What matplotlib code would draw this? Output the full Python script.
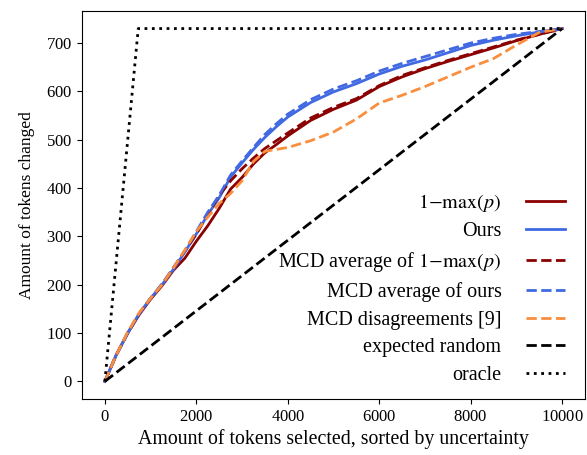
import numpy as np
import matplotlib
matplotlib.use("Agg")
import matplotlib.pyplot as plt
from matplotlib.font_manager import FontProperties

plt.rcParams['font.family'] = 'serif'
plt.rcParams['font.serif'] = ['Liberation Serif']
plt.rcParams['mathtext.fontset'] = 'cm'
plt.rcParams['axes.formatter.use_mathtext'] = True

# tokens selected (x) and tokens changed (y)
x = [0, 250, 500, 750, 1000, 1250, 1500, 1750, 2000, 2250, 2500, 2750, 3000,
     3250, 3500, 3750, 4000, 4500, 5000, 5500, 6000, 6500, 7000, 7500, 8000,
     8500, 9000, 9500, 10000]
maxp = [0, 55, 100, 138, 170, 198, 230, 255, 290, 322, 358, 398, 422,
        450, 473, 490, 508, 540, 563, 582, 610, 630, 647, 662, 676,
        690, 705, 718, 730]
ours = [0, 55, 100, 140, 172, 200, 232, 268, 305, 345, 380, 423, 452,
        480, 505, 527, 547, 577, 599, 616, 636, 652, 665, 680, 695,
        706, 715, 723, 730]
mcd_maxp = [0, 55, 100, 140, 172, 200, 235, 270, 305, 345, 385, 415, 440,
            462, 482, 498, 514, 545, 567, 585, 612, 633, 649, 664, 678,
            692, 706, 718, 730]
mcd_ours = [0, 55, 100, 140, 172, 202, 235, 270, 310, 350, 385, 427, 456,
            484, 511, 533, 553, 583, 605, 622, 642, 658, 672, 686, 700,
            710, 718, 724, 730]
mcd_dis = [0, 55, 102, 142, 172, 200, 235, 272, 310, 340, 368, 389, 415,
           455, 476, 480, 484, 498, 516, 543, 576, 592, 610, 630, 650,
           668, 696, 722, 730]

n_tokens = 10000
n_changed = 730

fig = plt.figure(figsize=(5.87, 4.55), dpi=100)
ax = fig.add_axes([0.1397, 0.123, 0.857, 0.853])

ax.plot(x, maxp, color='#8b0000', lw=2, label=r'$1{-}\max(p)$')
ax.plot(x, ours, color='#4169e1', lw=2, label='Ours')
ax.plot(x, mcd_maxp, color='#8b0000', lw=2, ls='--', label=r'MCD average of $1{-}\max(p)$')
ax.plot(x, mcd_ours, color='#4169e1', lw=2, ls='--', label='MCD average of ours')
ax.plot(x, mcd_dis, color='#f98e3e', lw=2, ls='--', label='MCD disagreements [9]')
ax.plot([0, n_tokens], [0, n_changed], color='black', lw=2, ls='--', label='expected random')
ax.plot([0, n_changed, n_tokens], [0, n_changed, n_changed], color='black', lw=2, ls=':', label='oracle')

ax.set_xlabel('Amount of tokens selected, sorted by uncertainty', fontsize=14.3, labelpad=3)
ax.set_ylabel('Amount of tokens changed', fontsize=12.5, labelpad=8)
ax.tick_params(labelsize=12)
ax.set_xticks([0, 2000, 4000, 6000, 8000, 10000])
ax.set_yticks(range(0, 701, 100))

legend_font = FontProperties(family='Liberation Serif', size=14.5, math_fontfamily='stix')
ax.legend(loc='lower right', bbox_to_anchor=(1.0, -0.015), frameon=False,
          markerfirst=False, prop=legend_font, handlelength=1.95,
          handletextpad=1.2, labelspacing=0.42, borderaxespad=0.6)

fig.savefig('out.png', dpi=100)
